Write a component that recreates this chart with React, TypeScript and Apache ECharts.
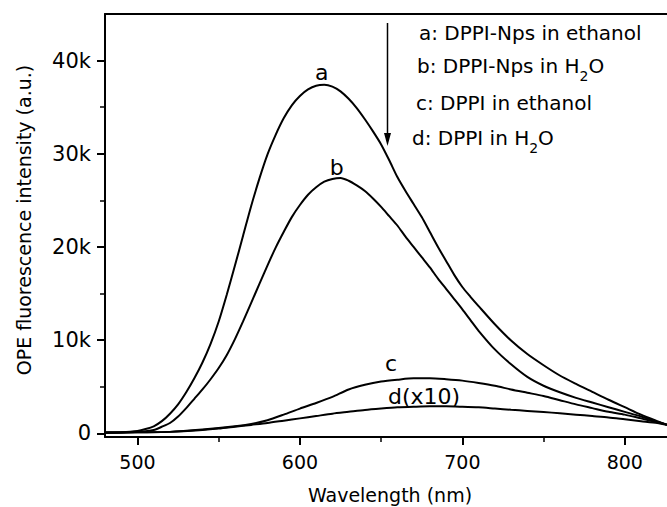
import React, { useEffect, useRef } from "react";
import * as echarts from "echarts";

// ---- Data (wavelength in nm, intensity in a.u.) ----
const wlA = [480, 490, 500, 505, 510, 515, 520, 525, 530, 535, 540, 545, 550, 555, 560, 565, 570, 575, 580, 585, 590, 595, 600, 605, 610, 615, 620, 625, 630, 635, 640, 645, 650, 655, 660, 665, 670, 675, 680, 685, 690, 695, 700, 705, 710, 720, 730, 740, 750, 760, 770, 780, 790, 800, 810, 820, 826];
const valA = [100, 120, 250, 450, 750, 1300, 2100, 3100, 4400, 5900, 7600, 9600, 12000, 14900, 18000, 21200, 24400, 27300, 29900, 32000, 33800, 35200, 36200, 36900, 37300, 37400, 37200, 36700, 35900, 34900, 33700, 32400, 31000, 29300, 27500, 26000, 24600, 23200, 21600, 20000, 18500, 17000, 15700, 14650, 13650, 11700, 9950, 8500, 7300, 6200, 5300, 4450, 3600, 2800, 2000, 1300, 900];

const wlB = [480, 490, 500, 510, 515, 520, 525, 530, 535, 540, 545, 550, 555, 560, 565, 570, 575, 580, 585, 590, 595, 600, 605, 610, 615, 620, 625, 630, 635, 640, 645, 650, 655, 660, 665, 670, 675, 680, 685, 690, 695, 700, 705, 710, 720, 730, 740, 750, 760, 770, 780, 790, 800, 810, 820, 826];
const valB = [50, 80, 150, 350, 700, 1100, 1800, 2700, 3700, 4700, 5800, 7000, 8400, 10100, 12000, 14000, 16000, 18000, 19900, 21600, 23200, 24500, 25600, 26400, 27000, 27300, 27400, 27100, 26600, 26000, 25200, 24300, 23300, 22300, 21100, 20000, 18900, 17800, 16600, 15500, 14400, 13300, 12150, 11000, 9000, 7400, 6050, 5100, 4400, 3800, 3300, 2800, 2300, 1800, 1250, 900];

const wlC = [480, 500, 520, 540, 560, 570, 580, 590, 600, 610, 620, 630, 640, 650, 660, 670, 680, 690, 700, 710, 720, 730, 740, 750, 760, 770, 780, 790, 800, 810, 820, 826];
const valC = [50, 100, 150, 400, 750, 1000, 1400, 2000, 2650, 3250, 3900, 4700, 5200, 5550, 5750, 5900, 5900, 5800, 5650, 5400, 5100, 4700, 4350, 4000, 3550, 3100, 2700, 2300, 2000, 1600, 1200, 900];

const wlD = [480, 500, 520, 540, 550, 560, 570, 580, 590, 600, 610, 620, 630, 640, 650, 660, 670, 680, 690, 700, 710, 720, 730, 740, 750, 760, 770, 780, 790, 800, 810, 820, 826];
const valD = [50, 100, 150, 350, 500, 700, 900, 1100, 1350, 1600, 1850, 2100, 2300, 2500, 2650, 2780, 2850, 2900, 2900, 2850, 2780, 2650, 2520, 2400, 2280, 2150, 2000, 1850, 1700, 1500, 1300, 1100, 900];

const xMajorTicks = [500, 600, 700, 800];
const xMinorTicks = [550, 650, 750];
const yMajorTicks = [0, 10000, 20000, 30000, 40000];
const yMinorTicks = [5000, 15000, 25000, 35000];

const legendLines = ["a: DPPI-Nps in ethanol", "b: DPPI-Nps in H", "c: DPPI in ethanol", "d: DPPI in H"];
const curveLabels = ["a", "b", "c", "d(x10)"];

const FONT = "DejaVu Sans";

function textWidth(s: string, size: number): number {
  const ctx = document.createElement("canvas").getContext("2d");
  if (!ctx) return s.length * size * 0.6;
  ctx.font = `${size}px "${FONT}"`;
  return ctx.measureText(s).width;
}

export default function App() {
  const ref = useRef<HTMLDivElement>(null);

  useEffect(() => {
    if (!ref.current) return;
    const chart = echarts.init(ref.current, undefined, { renderer: "svg" });

    const X_MIN = 480;
    const X_MAX = 826;
    const Y_MIN = -400;
    const Y_MAX = 45000;

    const black = "#000";
    const toPairs = (w: number[], v: number[]) => w.map((x, i) => [x, v[i]]);

    const lineSeries = (name: string, w: number[], v: number[]) => ({
      name,
      type: "line",
      xAxisIndex: 0,
      yAxisIndex: 0,
      data: toPairs(w, v),
      showSymbol: false,
      smooth: 0.25,
      lineStyle: { color: black, width: 2 },
      itemStyle: { color: black },
      clip: true,
    });

    const legendX = [419, 417, 416, 412];
    const legendY = [32.5, 65.5, 102.5, 137.5];
    const graphics: any[] = [];
    legendLines.forEach((t, i) => {
      graphics.push({
        type: "text",
        x: legendX[i],
        y: legendY[i],
        style: { text: t, fill: black, fontSize: 20, fontFamily: FONT, align: "left", verticalAlign: "middle" },
      });
      if (i === 1 || i === 3) {
        const w = textWidth(t, 20);
        const w2 = textWidth("2", 14);
        graphics.push({
          type: "text",
          x: legendX[i] + w,
          y: legendY[i] + 10,
          style: { text: "2", fill: black, fontSize: 14, fontFamily: FONT, align: "left", verticalAlign: "middle" },
        });
        graphics.push({
          type: "text",
          x: legendX[i] + w + w2,
          y: legendY[i],
          style: { text: "O", fill: black, fontSize: 20, fontFamily: FONT, align: "left", verticalAlign: "middle" },
        });
      }
    });

    // arrow
    graphics.push({
      type: "line",
      shape: { x1: 387.5, y1: 23, x2: 387.5, y2: 136 },
      style: { stroke: black, lineWidth: 1.5 },
    });
    graphics.push({
      type: "polygon",
      shape: { points: [[384, 133], [391, 133], [387.5, 146]] },
      style: { fill: black },
    });

    // curve labels
    const labelPos = [
      [321.7, 72],
      [336.7, 167],
      [391, 363],
      [424, 396],
    ];
    curveLabels.forEach((t, i) => {
      graphics.push({
        type: "text",
        x: labelPos[i][0],
        y: labelPos[i][1],
        style: { text: t, fill: black, fontSize: 22, fontFamily: FONT, align: "center", verticalAlign: "middle" },
      });
    });

    // axis titles
    graphics.push({
      type: "text",
      x: 390,
      y: 495,
      style: { text: "Wavelength (nm)", fill: black, fontSize: 19, fontFamily: FONT, align: "center", verticalAlign: "middle" },
    });
    graphics.push({
      type: "text",
      x: 24,
      y: 220,
      rotation: Math.PI / 2,
      style: {
        text: "OPE fluorescence intensity (a.u.)",
        fill: black,
        fontSize: 19,
        fontFamily: FONT,
        align: "center",
        verticalAlign: "middle",
      },
    });

    const option: any = {
      animation: false,
      backgroundColor: "#fff",
      grid: { left: 105, top: 14, right: 0, bottom: 70, containLabel: false, outerBoundsMode: "none" },
      xAxis: [
        {
          type: "value",
          position: "bottom",
          min: X_MIN,
          max: X_MAX,
          axisLine: { show: true, onZero: false, lineStyle: { color: black, width: 2 } },
          axisTick: { show: true, customValues: xMajorTicks, length: 8, lineStyle: { color: black, width: 2 } },
          axisLabel: { show: true, customValues: xMajorTicks, color: black, fontSize: 19, fontFamily: FONT, margin: 15 },
          splitLine: { show: false },
        },
        {
          type: "value",
          position: "bottom",
          min: X_MIN,
          max: X_MAX,
          axisLine: { show: false, onZero: false },
          axisTick: { show: true, customValues: xMinorTicks, length: 5, lineStyle: { color: black, width: 1.5 } },
          axisLabel: { show: false },
          splitLine: { show: false },
        },
        {
          type: "value",
          position: "top",
          min: X_MIN,
          max: X_MAX,
          axisLine: { show: true, onZero: false, lineStyle: { color: black, width: 2 } },
          axisTick: { show: false },
          axisLabel: { show: false },
          splitLine: { show: false },
        },
      ],
      yAxis: [
        {
          type: "value",
          position: "left",
          min: Y_MIN,
          max: Y_MAX,
          axisLine: { show: true, onZero: false, lineStyle: { color: black, width: 2 } },
          axisTick: { show: true, customValues: yMajorTicks, length: 8, lineStyle: { color: black, width: 2 } },
          axisLabel: {
            show: true,
            customValues: yMajorTicks,
            color: black,
            fontSize: 21,
            fontFamily: FONT,
            margin: 14,
            formatter: (v: number) => (v === 0 ? "0" : `${v / 1000}k`),
          },
          splitLine: { show: false },
        },
        {
          type: "value",
          position: "left",
          min: Y_MIN,
          max: Y_MAX,
          axisLine: { show: false, onZero: false },
          axisTick: { show: true, customValues: yMinorTicks, length: 5, lineStyle: { color: black, width: 1.5 } },
          axisLabel: { show: false },
          splitLine: { show: false },
        },
      ],
      series: [
        lineSeries("a", wlA, valA),
        lineSeries("b", wlB, valB),
        lineSeries("c", wlC, valC),
        lineSeries("d", wlD, valD),
      ],
      graphic: graphics,
    };

    chart.setOption(option);
    return () => chart.dispose();
  }, []);

  return (
    <div
      ref={ref}
      style={{ position: "fixed", left: 0, top: 0, width: 667, height: 507, background: "#fff" }}
    />
  );
}
